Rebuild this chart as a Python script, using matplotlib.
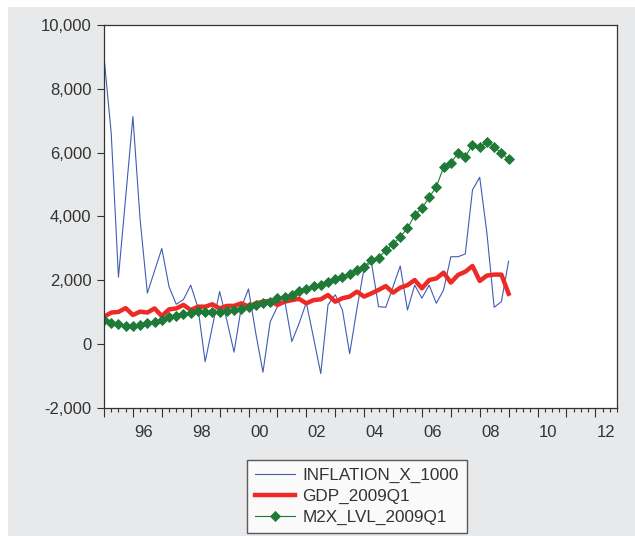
# ============================================================
# GRÁFICO: INFLAÇÃO, PIB E M2X (TRIMESTRAL 1995Q1 - 2009Q1)
# ============================================================

import numpy as np
import matplotlib.pyplot as plt
from matplotlib.patches import Rectangle
from matplotlib.ticker import FuncFormatter, FixedLocator

# ============================================================
# DADOS (um valor por trimestre)
# ============================================================

start_year = 1995
end_year = 2012

inflation_x_1000 = [
    9000, 6600, 2100, 4600, 7130, 3900, 1600, 2300,
    3000, 1800, 1250, 1400, 1850, 1150, -550, 550,
    1650, 750, -250, 1150, 1730, 350, -880, 700,
    1175, 1380, 80, 650, 1300, 200, -920, 1230,
    1550, 1070, -300, 1100, 2380, 2580, 1175, 1155,
    1800, 2450, 1070, 1850, 1440, 1850, 1280, 1700,
    2740, 2740, 2825, 4830, 5230, 3470, 1155, 1330,
    2600,
]

gdp_2009q1 = [
    860, 990, 1010, 1130, 915, 1020, 990, 1120,
    880, 1090, 1120, 1230, 1070, 1175, 1175, 1250,
    1120, 1200, 1200, 1280, 1180, 1280, 1330, 1360,
    1230, 1330, 1380, 1420, 1280, 1380, 1405, 1540,
    1330, 1440, 1490, 1645, 1490, 1590, 1700, 1820,
    1615, 1770, 1850, 2010, 1750, 2010, 2060, 2240,
    1930, 2170, 2270, 2450, 1980, 2150, 2180, 2180,
    1580,
]

m2x_lvl_2009q1 = [
    757, 673, 632, 560, 569, 600, 673, 705,
    757, 841, 883, 946, 986, 1050, 1018, 1000,
    1018, 1050, 1070, 1100, 1175, 1227, 1280, 1330,
    1437, 1490, 1540, 1660, 1740, 1823, 1853, 1958,
    2030, 2115, 2199, 2324, 2428, 2637, 2690, 2950,
    3128, 3368, 3630, 4047, 4256, 4600, 4934, 5541,
    5687, 5980, 5876, 6240, 6187, 6325, 6187, 5980,
    5792,
]

year_labels = ["96", "98", "00", "02", "04", "06", "08", "10", "12"]
y_ticks = [-2000, 0, 2000, 4000, 6000, 8000, 10000]

# ============================================================
# EIXO X EM TRIMESTRES DESDE 1995Q1
# ============================================================

quarters = np.arange(len(inflation_x_1000))
n_quarters = (end_year - start_year + 1) * 4

# ============================================================
# FIGURA
# ============================================================

plt.rcParams['font.family'] = ['Liberation Sans', 'DejaVu Sans']

text_color = '#333333'
bg_color = '#E8E9EB'

fig = plt.figure(figsize=(6.35, 5.36), dpi=100, facecolor='white')

# fundo cinza (com pequena borda branca em cima e à esquerda)
fig.patches.append(
    Rectangle(
        (8 / 635, -0.01), 1, 1.01 - 7 / 536,
        transform=fig.transFigure,
        facecolor=bg_color,
        edgecolor='none',
        zorder=-10
    )
)

ax = fig.add_axes([104 / 635, 1 - 408 / 536, 513 / 635, 383 / 536])
ax.set_facecolor('white')

# ============================================================
# SÉRIES
# ============================================================

ax.plot(
    quarters, inflation_x_1000,
    color='#3F5DB5', linewidth=0.8,
    label='INFLATION_X_1000'
)

ax.plot(
    quarters, gdp_2009q1,
    color='#EE2A24', linewidth=3.2,
    label='GDP_2009Q1'
)

ax.plot(
    quarters, m2x_lvl_2009q1,
    color='#1F7A38', linewidth=0.8,
    marker='D', markersize=5.2,
    markeredgewidth=0.6,
    label='M2X_LVL_2009Q1'
)

# ============================================================
# EIXOS
# ============================================================

ax.set_xlim(0, n_quarters - 1)
ax.set_ylim(-2000, 10000)

ax.set_yticks(y_ticks)
ax.yaxis.set_major_formatter(FuncFormatter(lambda v, p: f"{v:,.0f}"))

ax.xaxis.set_major_locator(FixedLocator(np.arange(0, n_quarters, 4)))
ax.xaxis.set_minor_locator(FixedLocator(np.arange(0, n_quarters)))
ax.set_xticklabels([])

ax.tick_params(axis='y', direction='out', length=5, width=0.8,
               labelsize=12, colors=text_color, pad=4)
ax.tick_params(axis='x', which='major', direction='out', length=6.5,
               width=0.8, color=text_color)
ax.tick_params(axis='x', which='minor', direction='out', length=3,
               width=0.8, color=text_color)

for spine in ax.spines.values():
    spine.set_color('#333333')
    spine.set_linewidth(0.9)

# rótulos dos anos centralizados no meio de cada ano
label_pos = [4 * (int("19" + s if s[0] == "9" else "20" + s) - start_year) + 1.5
             for s in year_labels]

sec = ax.secondary_xaxis('bottom')
sec.set_xticks(label_pos, year_labels)
sec.tick_params(length=0, labelsize=12, colors=text_color, pad=12)
sec.spines['bottom'].set_visible(False)

# ============================================================
# LEGENDA
# ============================================================

leg = fig.legend(
    loc='upper left',
    bbox_to_anchor=(247 / 635, 1 - 460 / 536),
    borderaxespad=0,
    fontsize=12.3,
    frameon=True,
    fancybox=False,
    handlelength=2.35,
    handletextpad=0.45,
    labelspacing=0.36,
    borderpad=0.45,
)
leg.get_frame().set_edgecolor('#333333')
leg.get_frame().set_linewidth(1.0)
for t in leg.get_texts():
    t.set_color(text_color)

# ============================================================
# SALVAMENTO
# ============================================================

fig.savefig('out.png', dpi=100, facecolor=fig.get_facecolor())
